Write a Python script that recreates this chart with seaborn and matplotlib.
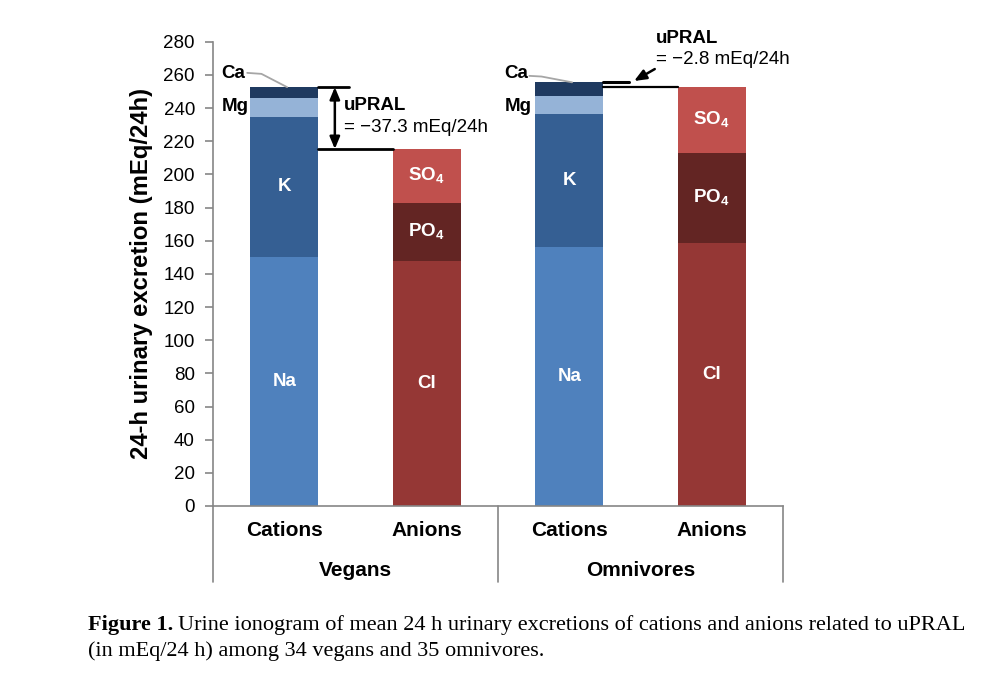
import matplotlib
matplotlib.use("Agg")
import matplotlib.pyplot as plt
import seaborn as sns
import pandas as pd
import numpy as np

# ---------------- data ----------------
bars = ["Vegans Cations", "Vegans Anions", "Omnivores Cations", "Omnivores Anions"]
bar_groups = ["Vegans", "Vegans", "Omnivores", "Omnivores"]
bar_sides = ["Cations", "Anions", "Cations", "Anions"]
group_labels = ["Vegans", "Omnivores"]

cation_ions = ["Na", "K", "Mg", "Ca"]
anion_ions = ["Cl", "PO4", "SO4"]

vegans_cations = [150.4, 84.4, 11.1, 6.7]
vegans_anions = [147.8, 34.9, 32.6]
omnivores_cations = [156.0, 80.4, 10.9, 8.2]
omnivores_anions = [158.4, 54.7, 39.6]

upral_labels = ["= \u221237.3 mEq/24h", "= \u22122.8 mEq/24h"]

ion_colors = {
    "Na": "#4F81BD", "K": "#355F93", "Mg": "#95B3D7", "Ca": "#1F3A60",
    "Cl": "#953735", "PO4": "#632523", "SO4": "#C0504D",
}
ion_display = {"Na": "Na", "K": "K", "Cl": "Cl",
               "PO4": r"PO$_\mathbf{4}$", "SO4": r"SO$_\mathbf{4}$"}

# ---------------- long table ----------------
rows = []
series = [(bars[0], cation_ions, vegans_cations), (bars[1], anion_ions, vegans_anions),
          (bars[2], cation_ions, omnivores_cations), (bars[3], anion_ions, omnivores_anions)]
for bar, ions, vals in series:
    cum = np.cumsum(vals)
    for layer, (ion, v, c) in enumerate(zip(ions, vals, cum)):
        rows.append(dict(bar=bar, layer=layer, ion=ion, value=v, top=c, mid=c - v / 2))
df = pd.DataFrame(rows)

# ---------------- style ----------------
sns.set_theme(style="white")
plt.rcParams["font.family"] = ["Liberation Sans", "DejaVu Sans"]
plt.rcParams["mathtext.fontset"] = "custom"
plt.rcParams["mathtext.rm"] = "Liberation Sans"
plt.rcParams["mathtext.bf"] = "Liberation Sans:bold"
plt.rcParams["text.color"] = "black"
plt.rcParams["axes.labelcolor"] = "black"
plt.rcParams["ytick.labelcolor"] = "black"

L, R, B, T = 213, 783, 506, 41.7
fig = plt.figure(figsize=(9.96, 6.98), dpi=100, facecolor="white")
ax = fig.add_axes([L / 996, 1 - B / 698, (R - L) / 996, (B - T) / 698])

# stacked bars: draw cumulative heights from the top layer down
for layer in sorted(df["layer"].unique(), reverse=True):
    sub = df[df["layer"] == layer]
    sns.barplot(data=sub, x="bar", y="top", hue="ion", order=bars, palette=ion_colors,
                dodge=False, width=0.48, saturation=1, legend=False, ax=ax,
                edgecolor="none", linewidth=0, errorbar=None)

ax.set_xlim(-0.5, 3.5)
ax.set_ylim(0, 280)
ax.set_yticks(np.arange(0, 281, 20))
ax.set_xticks([])
ax.set_xlabel("")
ax.set_ylabel("24-h urinary excretion (mEq/24h)", fontsize=17.2, fontweight="bold", color="black")
ax.yaxis.set_label_coords(-0.106, 0.5)
for s in ["top", "right"]:
    ax.spines[s].set_visible(False)
for s in ["left", "bottom"]:
    ax.spines[s].set_color("#868686")
    ax.spines[s].set_linewidth(1.2)
ax.tick_params(axis="y", direction="out", length=6, width=1.2, color="#868686",
               labelsize=13.5, labelcolor="black", pad=7, left=True)

# category axis table
depth = (582 - B) / (B - T)
for xa in [0.0, 0.5, 1.0]:
    ax.plot([xa, xa], [0, -depth], transform=ax.transAxes, color="#868686",
            lw=1.2, clip_on=False)
trans = ax.get_xaxis_transform()
for i, side in enumerate(bar_sides):
    ax.text(i, -(530 - B) / (B - T), side, transform=trans, ha="center", va="center",
            fontsize=15, fontweight="bold")
for g, lab in enumerate(group_labels):
    ax.text(2 * g + 0.5, -(570 - B) / (B - T), lab, transform=trans, ha="center", va="center",
            fontsize=15, fontweight="bold")

# segment labels
for _, r in df.iterrows():
    if r["ion"] in ion_display:
        ax.text(bars.index(r["bar"]), r["mid"], ion_display[r["ion"]], ha="center", va="center",
                color="white", fontsize=13.5, fontweight="bold")

# Ca / Mg labels with leader line
cation_totals = [sum(vegans_cations), sum(omnivores_cations)]
anion_totals = [sum(vegans_anions), sum(omnivores_anions)]
for g, (lx, pts) in enumerate([(-0.44, [(-0.26, 261.2), (-0.16, 260.6)]),
                               (1.545, [(1.72, 259.4), (1.805, 259.0)])]):
    ax.text(lx, 260.8, "Ca", ha="left", va="center", fontsize=13.5, fontweight="bold")
    ax.text(lx, 240.7, "Mg", ha="left", va="center", fontsize=13.5, fontweight="bold")
    xs = [p[0] for p in pts] + [2 * g + 0.02]
    ys = [p[1] for p in pts] + [cation_totals[g]]
    ax.plot(xs, ys, color="#A6A6A6", lw=1.3, clip_on=False)

# uPRAL annotation - vegans
ct, at = cation_totals[0], anion_totals[0]
ax.plot([0.24, 0.455], [ct, ct], color="black", lw=2)
ax.plot([0.24, 0.76], [at, at], color="black", lw=2)
ax.annotate("", xy=(0.355, ct), xytext=(0.355, at),
            arrowprops=dict(arrowstyle="<|-|>,head_length=0.6,head_width=0.25",
                            color="black", lw=1.8, shrinkA=0, shrinkB=0))
ax.text(0.418, 241.3, "uPRAL", ha="left", va="center", fontsize=13.5, fontweight="bold")
ax.text(0.418, 228.0, upral_labels[0], ha="left", va="center", fontsize=13.5)

# uPRAL annotation - omnivores
ct, at = cation_totals[1], anion_totals[1]
ax.plot([2.24, 2.42], [ct, ct], color="black", lw=2.2)
ax.plot([2.24, 2.76], [at, at], color="black", lw=1.6)
ax.annotate("", xy=(2.455, 256.3), xytext=(2.60, 263.5),
            arrowprops=dict(arrowstyle="-|>,head_length=0.6,head_width=0.25",
                            color="black", lw=1.8, shrinkA=0, shrinkB=0),
            annotation_clip=False)
ax.text(2.61, 282.0, "uPRAL", ha="left", va="center", fontsize=13.5, fontweight="bold",
        clip_on=False)
ax.text(2.61, 269.0, upral_labels[1], ha="left", va="center", fontsize=13.5, clip_on=False)

# ---------------- caption ----------------
serif = ["Liberation Serif", "DejaVu Serif"]
cap_size = 16.0
x0 = 88 / 996
t_bold = fig.text(x0, 1 - 625 / 698, "Figure 1.", fontsize=cap_size, fontweight="bold",
                  family=serif, ha="left", va="center")
fig.canvas.draw()
rend = fig.canvas.get_renderer()
bb = t_bold.get_window_extent(rend)
space = 5
fig.text((bb.x1 + space) / 996, 1 - 625 / 698,
         "Urine ionogram of mean 24 h urinary excretions of cations and anions related to uPRAL",
         fontsize=cap_size, family=serif, ha="left", va="center")
fig.text(x0, 1 - 651 / 698, "(in mEq/24 h) among 34 vegans and 35 omnivores.",
         fontsize=cap_size, family=serif, ha="left", va="center")

fig.savefig("out.png", dpi=100, facecolor="white")
